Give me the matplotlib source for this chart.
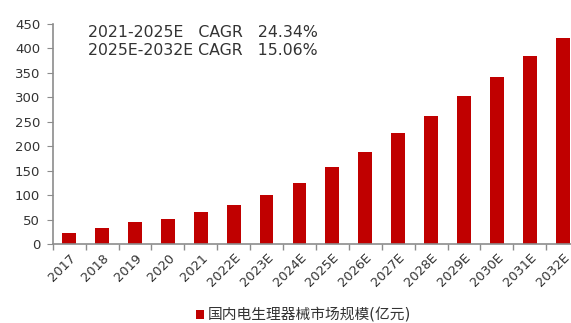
import matplotlib
matplotlib.use("Agg")
import matplotlib.pyplot as plt
from matplotlib.ticker import MultipleLocator, FixedLocator

plt.rcParams['font.family'] = ['DejaVu Sans', 'Noto Sans CJK SC']

years = ["2017", "2018", "2019", "2020", "2021", "2022E", "2023E", "2024E",
         "2025E", "2026E", "2027E", "2028E", "2029E", "2030E", "2031E", "2032E"]
market_size = [24, 33, 46, 51, 66, 80, 100, 125,
               157.5, 189, 227, 262, 302, 341, 384, 420.5]
series_name = "国内电生理器械市场规模(亿元)"
cagr_lines = ["2021-2025E   CAGR   24.34%", "2025E-2032E CAGR   15.06%"]

bar_color = "#C00000"
axis_color = "#8C8C8C"
text_color = "#333333"

fig = plt.figure(figsize=(5.71, 3.23), dpi=100)
ax = fig.add_axes([0.0923, 0.2437, 0.922, 0.682])

x = range(len(years))
ax.bar(x, market_size, width=0.42, color=bar_color, label=series_name, zorder=2)

ax.set_xlim(-0.5, len(years) - 0.5)
ax.set_ylim(0, 450)
ax.yaxis.set_major_locator(MultipleLocator(50))

for side in ("top", "right"):
    ax.spines[side].set_visible(False)
for side in ("left", "bottom"):
    ax.spines[side].set_color(axis_color)
    ax.spines[side].set_linewidth(1.2)

ax.tick_params(axis="y", direction="out", length=4, color=axis_color,
               labelsize=9.5, labelcolor=text_color, pad=5)

# category labels under bars, tick marks between categories
ax.set_xticks(list(x))
ax.set_xticklabels(years, rotation=45, ha="right", va="top",
                   rotation_mode="anchor", fontsize=9.3, color=text_color)
ax.tick_params(axis="x", which="major", length=0, pad=5)
ax.xaxis.set_minor_locator(FixedLocator([i - 0.5 for i in range(len(years) + 1)]))
ax.tick_params(axis="x", which="minor", direction="out", length=4,
               color=axis_color, width=1.0)

fig.text(88 / 571, 1 - 32.5 / 323, cagr_lines[0], fontsize=11.3,
         color=text_color, va="center", ha="left")
fig.text(88 / 571, 1 - 50.5 / 323, cagr_lines[1], fontsize=11.3,
         color=text_color, va="center", ha="left")

fig.legend(loc="center", bbox_to_anchor=(0.5315, 0.024), frameon=False,
           fontsize=10.6, handlelength=0.55, handleheight=0.55, handletextpad=0.3,
           labelcolor=text_color)

fig.savefig("out.png", dpi=100)
